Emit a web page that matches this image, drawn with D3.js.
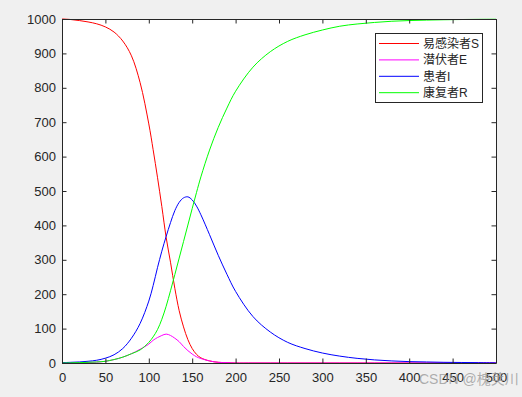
<!DOCTYPE html>
<html>
<head>
<meta charset="utf-8">
<script src="https://cdn.jsdelivr.net/npm/d3@7"></script>
<style>
  html, body { margin: 0; padding: 0; background: #f0f0f0; }
  svg { display: block; }
</style>
</head>
<body>
<svg id="chart" width="522" height="397"></svg>
<script>
// ---- data ----
const days = [0,10,20,30,40,50,60,70,80,90,100,105,110,115,120,125,130,135,140,145,150,155,160,170,180,190,200,220,240,260,280,300,320,340,360,380,400,420,440,460,480,500];
const susceptible = [1000,998.5,995.5,991.5,986,977,962,936,893,815,695,620,540,455,365,293,217,152,105,68,42,25,15,6,2,1,0,0,0,0,0,0,0,0,0,0,0,0,0,0,0,0];
const exposed = [0,0.5,1,1.5,2.5,5,10,17,27,40,55,66,74,80,84,80,72,62,48,36,26,18,13,6,2,1,0,0,0,0,0,0,0,0,0,0,0,0,0,0,0,0];
const infected = [1,2,3,5,8,14,24,42,72,115,180,225,277,325,368,408,443,467,480,483,474,456,431,373,313,258,208,135,90,60,42,29,20,13.5,9,6,4,3,2,1.5,1,0.5];
const recovered = [0,0.5,1,2,3,5,10,17,27,38,60,76,97,127,165,210,257,305,353,401,449,496,541,619,685,741,790,860,905,935,954,968,979,985.5,990,993.5,995.5,996.8,997.8,998.5,999,999.3];
const seriesNames = ["易感染者S","潜伏者E","患者I","康复者R"];
const seriesColors = ["#ff0000","#ff00ff","#0000ff","#00ff00"];
const xTicks = [0,50,100,150,200,250,300,350,400,450,500];
const yTicks = [0,100,200,300,400,500,600,700,800,900,1000];

(function(){
const series = [susceptible, exposed, infected, recovered];

const svg = d3.select("#chart");
const L = 62, R = 496, T = 19, B = 363;
const x = d3.scaleLinear().domain([0,500]).range([L,R]);
const y = d3.scaleLinear().domain([0,1000]).range([B,T]);
const axisColor = "#262626";
const font = "'Liberation Sans', Arial, Helvetica, sans-serif";

svg.append("rect").attr("x",L).attr("y",T).attr("width",R-L).attr("height",B-T).attr("fill","#fff");

svg.append("defs").append("clipPath").attr("id","clip")
  .append("rect").attr("x",L).attr("y",T-1).attr("width",R-L).attr("height",B-T+1);

const line = d3.line().x((d,i)=>x(days[i])).y(d=>y(d)).curve(d3.curveCatmullRom.alpha(0.5));
const g = svg.append("g").attr("clip-path","url(#clip)");
series.forEach((s,k)=>{
  g.append("path").datum(s).attr("d",line)
    .attr("fill","none").attr("stroke",seriesColors[k]).attr("stroke-width",1);
});

const tl = 4.5;
const fmt = d3.format("d");
const axB = d3.axisBottom(x).tickValues(xTicks).tickFormat(fmt).tickSizeInner(-tl).tickSizeOuter(0).tickPadding(10);
const axT = d3.axisTop(x).tickValues(xTicks).tickSizeInner(-tl).tickSizeOuter(0).tickFormat("");
const axL = d3.axisLeft(y).tickValues(yTicks).tickFormat(fmt).tickSizeInner(-tl).tickSizeOuter(0).tickPadding(6);
const axR = d3.axisRight(y).tickValues(yTicks).tickSizeInner(-tl).tickSizeOuter(0).tickFormat("");

function style(sel){
  sel.selectAll("path").attr("stroke",axisColor).attr("stroke-width",1);
  sel.selectAll("line").attr("stroke",axisColor).attr("stroke-width",1);
  sel.selectAll("text").attr("fill",axisColor).style("font-family",font).style("font-size","13px");
}
svg.append("g").attr("transform",`translate(0,${B})`).call(axB).call(style);
svg.append("g").attr("transform",`translate(0,${T})`).call(axT).call(style);
svg.append("g").attr("transform",`translate(${L},0)`).call(axL).call(style);
svg.append("g").attr("transform",`translate(${R},0)`).call(axR).call(style);

const lg = svg.append("g");
lg.append("rect").attr("x",375.5).attr("y",33.5).attr("width",107).attr("height",69)
  .attr("fill","#fff").attr("stroke",axisColor).attr("stroke-width",1);
seriesNames.forEach((n,k)=>{
  const yy = 43.5 + k*16.4;
  lg.append("line").attr("x1",379).attr("x2",419).attr("y1",yy).attr("y2",yy)
    .attr("stroke",seriesColors[k]).attr("stroke-width",1);
  lg.append("text").attr("x",423).attr("y",yy).attr("dy","0.36em")
    .attr("fill",axisColor).style("font-family","'Liberation Sans', Arial, 'Noto Sans CJK SC', sans-serif")
    .style("font-size","12px").text(n);
});

svg.append("text").attr("x",419).attr("y",384)
  .attr("fill","rgba(150,150,150,0.75)")
  .style("font-family","'Liberation Sans', Arial, 'Noto Sans CJK SC', sans-serif")
  .style("font-size","14px").text("CSDN @槐荚川");
})();
</script>
</body>
</html>
